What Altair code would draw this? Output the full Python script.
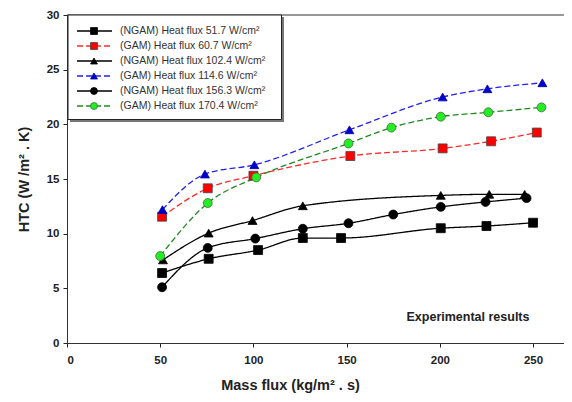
import altair as alt
import pandas as pd

labels = [
    "(NGAM) Heat flux 51.7 W/cm²",
    "(GAM) Heat flux 60.7 W/cm²",
    "(NGAM) Heat flux 102.4 W/cm²",
    "(GAM) Heat flux 114.6 W/cm²",
    "(NGAM) Heat flux 156.3 W/cm²",
    "(GAM) Heat flux 170.4 W/cm²",
]

x_ngam_51 = [51, 76, 102.5, 126.5, 147, 200.5, 225, 250]
y_ngam_51 = [6.4, 7.7, 8.5, 9.6, 9.6, 10.5, 10.7, 11.0]
x_gam_60 = [51, 75.5, 100, 152, 201.5, 227.5, 252]
y_gam_60 = [11.55, 14.15, 15.3, 17.1, 17.8, 18.45, 19.25]
x_ngam_102 = [51.5, 76, 99.5, 126.5, 200.5, 226.5, 245.5]
y_ngam_102 = [7.6, 10.05, 11.2, 12.55, 13.5, 13.6, 13.6]
x_gam_114 = [51.2, 74, 100.5, 151.5, 201.5, 225.5, 255]
y_gam_114 = [12.2, 15.45, 16.3, 19.5, 22.5, 23.25, 23.8]
x_ngam_156 = [51, 75.5, 101, 126.5, 151, 175, 200.5, 224.5, 246.5]
y_ngam_156 = [5.1, 8.7, 9.55, 10.45, 10.95, 11.75, 12.45, 12.9, 13.25]
x_gam_170 = [50, 75.5, 101.5, 151, 174, 200.5, 226, 254.5]
y_gam_170 = [7.95, 12.8, 15.15, 18.25, 19.7, 20.7, 21.1, 21.55]

xs_all = [x_ngam_51, x_gam_60, x_ngam_102, x_gam_114, x_ngam_156, x_gam_170]
ys_all = [y_ngam_51, y_gam_60, y_ngam_102, y_gam_114, y_ngam_156, y_gam_170]

x_ticks = [0, 50, 100, 150, 200, 250]
y_ticks = [0, 5, 10, 15, 20, 25, 30]

line_colors = ["#000000", "#ff2a2a", "#000000", "#2222ee", "#000000", "#1f8a1f"]
fill_colors = ["#000000", "#ff0000", "#000000", "#0000cc", "#000000", "#22ee22"]
edge_colors = ["#000000", "#444444", "#000000", "#0000aa", "#000000", "#446644"]
shapes = ["square", "square", "triangle-up", "triangle-up", "circle", "circle"]
sizes = [80, 80, 70, 70, 55, 55]
leg_sizes = [48, 48, 45, 45, 38, 38]
dashes = [[1, 0], [6, 3], [1, 0], [6, 3], [1, 0], [6, 3]]

rows = []
for lab, xs, ys in zip(labels, xs_all, ys_all):
    for xv, yv in zip(xs, ys):
        rows.append({"series": lab, "x": xv, "y": yv})
df = pd.DataFrame(rows)
leg_df = pd.DataFrame({"series": labels})

FONT = "Liberation Sans"
W, H = 497, 328

color = alt.Color("series:N", scale=alt.Scale(domain=labels, range=line_colors), legend=None)
dash = alt.StrokeDash("series:N", scale=alt.Scale(domain=labels, range=dashes), legend=None)
shape = alt.Shape("series:N", scale=alt.Scale(domain=labels, range=shapes), legend=None)
fill = alt.Fill("series:N", scale=alt.Scale(domain=labels, range=fill_colors), legend=None)
stroke = alt.Stroke("series:N", scale=alt.Scale(domain=labels, range=edge_colors), legend=None)
size = alt.Size("series:N", scale=alt.Scale(domain=labels, range=sizes), legend=None)

xenc = alt.X(
    "x:Q",
    scale=alt.Scale(domain=[0, 266.6], nice=False),
    axis=alt.Axis(
        values=x_ticks,
        title="Mass flux (kg/m² . s)",
        titleFontSize=14.5,
        titleFontWeight="bold",
        titleFont=FONT,
        titleColor="#222222",
        titleX=223,
        titleY=42,
        titleBaseline="middle",
        labelPadding=7,
    ),
)
yenc = alt.Y(
    "y:Q",
    scale=alt.Scale(domain=[0, 30], nice=False),
    axis=alt.Axis(
        values=y_ticks,
        title="HTC (W /m² . K)",
        titleFontSize=14.5,
        titleFontWeight="bold",
        titleFont=FONT,
        titleColor="#222222",
        titleX=-43,
        titleY=164,
        titleAngle=-90,
        titleBaseline="middle",
        titleAlign="center",
        labelPadding=4,
    ),
)

lines = alt.Chart(df).mark_line(interpolate="monotone", strokeWidth=1.3).encode(
    x=xenc, y=yenc, color=color, strokeDash=dash, detail="series:N"
)
points = alt.Chart(df).mark_point(filled=False, opacity=1, strokeWidth=0.8).encode(
    x="x:Q", y="y:Q", shape=shape, fill=fill, stroke=stroke, size=size
)
top_border = alt.Chart(pd.DataFrame({"v": [30]})).mark_rule(color="#333333", strokeWidth=1).encode(
    y="v:Q", x=alt.value(0), x2=alt.value(W)
)
note = alt.Chart(pd.DataFrame({"t": ["Experimental results"]})).mark_text(
    font=FONT, fontSize=12.5, fontWeight="bold", color="#222222", align="center", baseline="middle"
).encode(text="t:N", x=alt.value(401), y=alt.value(302))

main = alt.layer(lines, points, top_border, note)

ly = alt.Y("series:N", scale=alt.Scale(type="point", domain=labels, range=[16, 91], padding=0), axis=None)
shadow = alt.Chart(pd.DataFrame({"a": [1]})).mark_rect(color="#777777").encode(
    x=alt.value(3), x2=alt.value(217), y=alt.value(2), y2=alt.value(107)
)
box = alt.Chart(pd.DataFrame({"a": [1]})).mark_rect(fill="white", stroke="#222222", strokeWidth=1).encode(
    x=alt.value(1), x2=alt.value(214.5), y=alt.value(0), y2=alt.value(104.5)
)
leg_lines = alt.Chart(leg_df).mark_rule(strokeWidth=1.3).encode(
    x=alt.value(10), x2=alt.value(45), y=ly, color=color, strokeDash=dash
)
leg_points = alt.Chart(leg_df).mark_point(filled=False, opacity=1, strokeWidth=0.8).encode(
    x=alt.value(27), y=ly, shape=shape, fill=fill, stroke=stroke,
    size=alt.Size("series:N", scale=alt.Scale(domain=labels, range=leg_sizes), legend=None),
)
leg_text = alt.Chart(leg_df).mark_text(
    font=FONT, fontSize=10.5, align="left", baseline="middle", color="#333333"
).encode(x=alt.value(53), y=ly, text="series:N")

legend = alt.layer(shadow, box, leg_lines, leg_points, leg_text).resolve_scale(size="independent")

chart = alt.layer(main, legend).resolve_scale(y="independent", size="independent").properties(
    width=W,
    height=H,
    autosize=alt.AutoSizeParams(type="none"),
    padding={"left": 59, "top": 7, "right": 0, "bottom": 50},
    background="white",
).configure_view(stroke=None).configure_axis(
    grid=False,
    labelFont=FONT,
    labelFontSize=11.5,
    labelFontWeight="bold",
    labelColor="#222222",
    tickColor="#222222",
    tickSize=4,
    tickWidth=1,
    domainColor="#333333",
    domainWidth=1,
)

chart.save("out.html", embed_options={"renderer": "svg", "actions": False})
